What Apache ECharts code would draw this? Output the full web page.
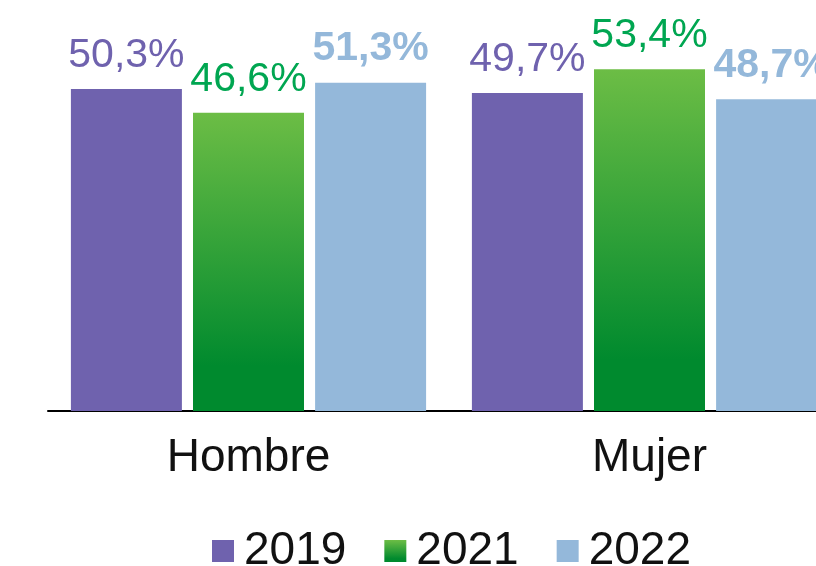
<!DOCTYPE html>
<html>
<head>
<meta charset="utf-8">
<script src="https://cdn.jsdelivr.net/npm/echarts@6/dist/echarts.min.js"></script>
<style>
  html, body { margin: 0; padding: 0; background: #fff; overflow: hidden; }
  /* el grafico original esta recortado a la derecha */
  #chart { width: 850px; height: 566px; }
</style>
</head>
<body>
<div id="chart"></div>
<script>
// datos
const categorias = ['Hombre', 'Mujer']
const anios = ['2019', '2021', '2022']
const v2019 = [50.3, 49.7]
const v2021 = [46.6, 53.4]
const v2022 = [51.3, 48.7]

const fuente = 'Liberation Sans'
const pct = p => p.value.toFixed(1).replace('.', ',') + '%'

const verde = new echarts.graphic.LinearGradient(0, 0, 0, 1, [
  { offset: 0, color: '#6cbd45' },
  { offset: 0.85, color: '#008a2e' },
  { offset: 1, color: '#008a2e' }
])

function serie(nombre, datos, color, colorTexto, peso) {
  return {
    name: nombre,
    type: 'bar',
    data: datos,
    barWidth: 111,
    barGap: '10%',
    itemStyle: { color: color },
    label: {
      show: true,
      position: 'top',
      distance: 13,
      formatter: pct,
      color: colorTexto,
      fontSize: 41,
      fontWeight: peso,
      fontFamily: fuente
    }
  }
}

let chart = echarts.init(document.getElementById('chart'))
chart.setOption({
  animation: false,
  grid: { left: 48, top: 27, right: 0, height: 384 },
  legend: {
    data: anios,
    icon: 'rect',
    bottom: -13,
    left: 207,
    itemWidth: 22,
    itemHeight: 22,
    itemGap: 38,
    textStyle: { fontSize: 46, fontFamily: fuente, color: '#111', padding: [0, 0, 9, 5] }
  },
  xAxis: {
    type: 'category',
    data: categorias,
    axisLine: { lineStyle: { color: '#000', width: 2 } },
    axisTick: { show: false },
    axisLabel: { fontSize: 46, fontFamily: fuente, color: '#111', margin: 24 }
  },
  yAxis: {
    type: 'value',
    min: 0,
    max: 60,
    show: false,
    splitLine: { show: false }
  },
  series: [
    serie('2019', v2019, '#6f62ae', '#6f62ae', 'normal'),
    serie('2021', v2021, verde, '#00a651', 'normal'),
    serie('2022', v2022, '#94b8da', '#94b8da', 'bold')
  ]
})
</script>
</body>
</html>
